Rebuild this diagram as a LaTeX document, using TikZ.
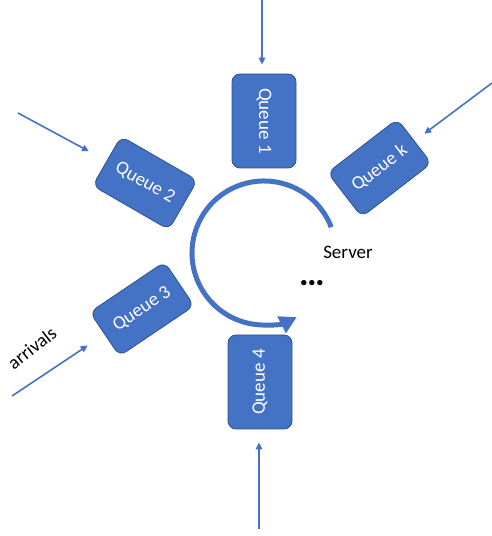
\documentclass[tikz,border=0pt]{standalone}
\usepackage{fontspec}
\setmainfont{Carlito}
\usetikzlibrary{arrows.meta}
\definecolor{qblue}{HTML}{4472C4}
\definecolor{qedge}{HTML}{2F528F}
\begin{document}
\begin{tikzpicture}[x=1pt,y=1pt,
  queue/.style={draw=qedge, line width=0.8pt, fill=qblue, rounded corners=8pt, text=white,
    font=\fontsize{19}{19}\selectfont, inner sep=0pt, minimum width=90pt, minimum height=56pt},
  feed/.style={draw=qblue, line width=1.6pt, -{Triangle[length=7pt,width=6.5pt]}},
  lbl/.style={font=\fontsize{19}{19}\selectfont, text=black, inner sep=0pt},
  turn/.style={draw=qblue, line width=5pt, -{Triangle[length=17pt,width=18pt]}}]
\useasboundingbox (0,0) rectangle (492,536);
% queues
\node[queue, rotate=-90, minimum width=94pt, minimum height=64pt] (q1) at (264,415) {Queue 1};
\node[queue, rotate=-30, minimum width=88pt, minimum height=57pt] (q2) at (145,353) {Queue 2};
\node[queue, rotate=34, minimum width=90pt, minimum height=53pt] (q3) at (142,227) {Queue 3};
\node[queue, rotate=90, minimum width=94pt, minimum height=64pt] (q4) at (260,154) {Queue 4};
\node[queue, rotate=37.6, minimum width=88pt, minimum height=56pt] (qk) at (379.5,368) {Queue k};
% arrival arrows
\coordinate (s1) at (262,536);
\coordinate (s2) at (18,423);
\coordinate (s3) at (12,140);
\coordinate (s4) at (259,7);
\coordinate (sk) at (492,453);
\draw[feed, shorten >=9pt] (s1) -- (s1 |- q1.west);
\draw[feed, shorten >=20pt] (s2) -- (q2.west);
\draw[feed, shorten >=20pt] (s3) -- (q3.west);
\draw[feed, shorten >=13pt] (s4) -- (s4 |- q4.west);
\draw[feed, shorten >=12pt] (sk) -- (qk.east);
% server
\coordinate (srv) at (264,283);
\draw[turn] (srv) ++(21:72) arc[start angle=21, end angle=297, radius=72];
\node[lbl] (server) at (348,284) {Server};
\node[lbl, font=\fontsize{36}{36}\selectfont\bfseries] (dots) at (312,253) {.\kern-1.6pt.\kern-1.6pt.};
\node[lbl, rotate=38] (arr) at (32,188) {arrivals};
\end{tikzpicture}
\end{document}
